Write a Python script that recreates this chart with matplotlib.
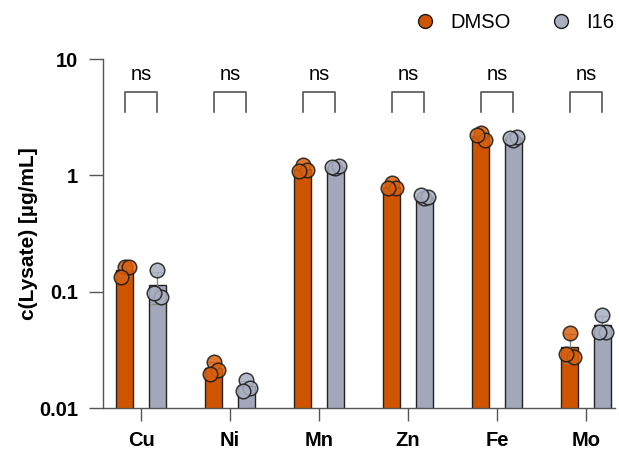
import numpy as np
import matplotlib
matplotlib.use("Agg")
from matplotlib import pyplot as plt
from matplotlib.lines import Line2D
from matplotlib.transforms import blended_transform_factory

plt.rcParams["font.family"] = ["Liberation Sans", "DejaVu Sans"]

metals = ["Cu", "Ni", "Mn", "Zn", "Fe", "Mo"]

# three replicates per metal, µg/mL
dmso = [
    [0.164, 0.162, 0.133],
    [0.025, 0.0212, 0.0196],
    [1.23, 1.11, 1.08],
    [0.855, 0.774, 0.774],
    [2.30, 2.02, 2.23],
    [0.0444, 0.0276, 0.0291],
]
i16 = [
    [0.154, 0.0906, 0.097],
    [0.0174, 0.0148, 0.0141],
    [1.15, 1.21, 1.18],
    [0.635, 0.656, 0.678],
    [2.02, 2.15, 2.10],
    [0.063, 0.0453, 0.0453],
]
significance = ["ns", "ns", "ns", "ns", "ns", "ns"]

y_ticks = [0.01, 0.1, 1, 10]
y_tick_labels = ["0.01", "0.1", "1", "10"]

bar_colors = {"DMSO": "#cf5400", "I16": "#a2a7b9"}
dot_colors = {"DMSO": "#d9600f", "I16": "#aab0c2"}

fig = plt.figure(figsize=(6.19, 4.5), dpi=100)
ax = fig.add_axes([103 / 619, 42 / 450, 512 / 619, 349 / 450])

x = np.arange(len(metals))
offset = 0.185
width = 0.195
jitter = np.array([0.0, 0.045, -0.04])

for name, data, dx in [("DMSO", dmso, -offset), ("I16", i16, offset)]:
    arr = np.array(data)
    means = arr.mean(axis=1)
    sds = arr.std(axis=1, ddof=1)
    ax.bar(x + dx, means, width=width, color=bar_colors[name],
           edgecolor="#222222", linewidth=1.0, zorder=2)
    ax.errorbar(x + dx, means, yerr=sds, fmt="none", ecolor="#8a8a8a",
                elinewidth=1.0, capsize=4, capthick=1.0, zorder=3)
    for i, vals in enumerate(data):
        ax.scatter(x[i] + dx + jitter, vals, s=110, color=dot_colors[name],
                   edgecolor="#1a1a1a", linewidth=1.1, alpha=0.85, zorder=4)

ax.set_yscale("log")
ax.set_ylim(0.01, 10)
ax.set_xlim(-0.427, 5.326)
ax.set_yticks(y_ticks)
ax.set_yticklabels(y_tick_labels)
ax.yaxis.set_minor_locator(matplotlib.ticker.NullLocator())
ax.set_xticks(x)
ax.set_xticklabels(metals)

for lab in ax.get_xticklabels() + ax.get_yticklabels():
    lab.set_fontweight("bold")
    lab.set_fontsize(14.5)

ax.tick_params(axis="y", length=10, width=1.0, color="#555555", pad=8)
ax.tick_params(axis="x", length=9.5, width=1.0, color="#555555", pad=7)
for side in ["top", "right"]:
    ax.spines[side].set_visible(False)
for side in ["left", "bottom"]:
    ax.spines[side].set_color("#555555")
    ax.spines[side].set_linewidth(1.0)

ax.set_ylabel("c(Lysate) [µg/mL]", fontsize=15, fontweight="bold", labelpad=1)

# significance brackets above each pair
trans = blended_transform_factory(ax.transData, ax.transAxes)
for i, label in enumerate(significance):
    x0, x1 = x[i] - offset, x[i] + offset
    ax.plot([x0, x0, x1, x1], [0.848, 0.905, 0.905, 0.848], color="#555555",
            lw=1.2, transform=trans, clip_on=False)
    ax.text(x[i], 0.957, label, transform=trans, ha="center", va="center",
            fontsize=14.5)

handles = [
    Line2D([], [], marker="o", ls="none", markersize=10,
           markerfacecolor=bar_colors["DMSO"], markeredgecolor="#1a1a1a"),
    Line2D([], [], marker="o", ls="none", markersize=10,
           markerfacecolor=dot_colors["I16"], markeredgecolor="#1a1a1a"),
]
fig.legend(handles, ["DMSO", "I16"], loc="center left", ncol=2,
           bbox_to_anchor=(415 / 619, 1 - 23 / 450), frameon=False,
           fontsize=14.5, handlelength=1.0, handletextpad=0.75,
           columnspacing=2.0, borderaxespad=0, borderpad=0)

plt.savefig("out.png", dpi=100)
